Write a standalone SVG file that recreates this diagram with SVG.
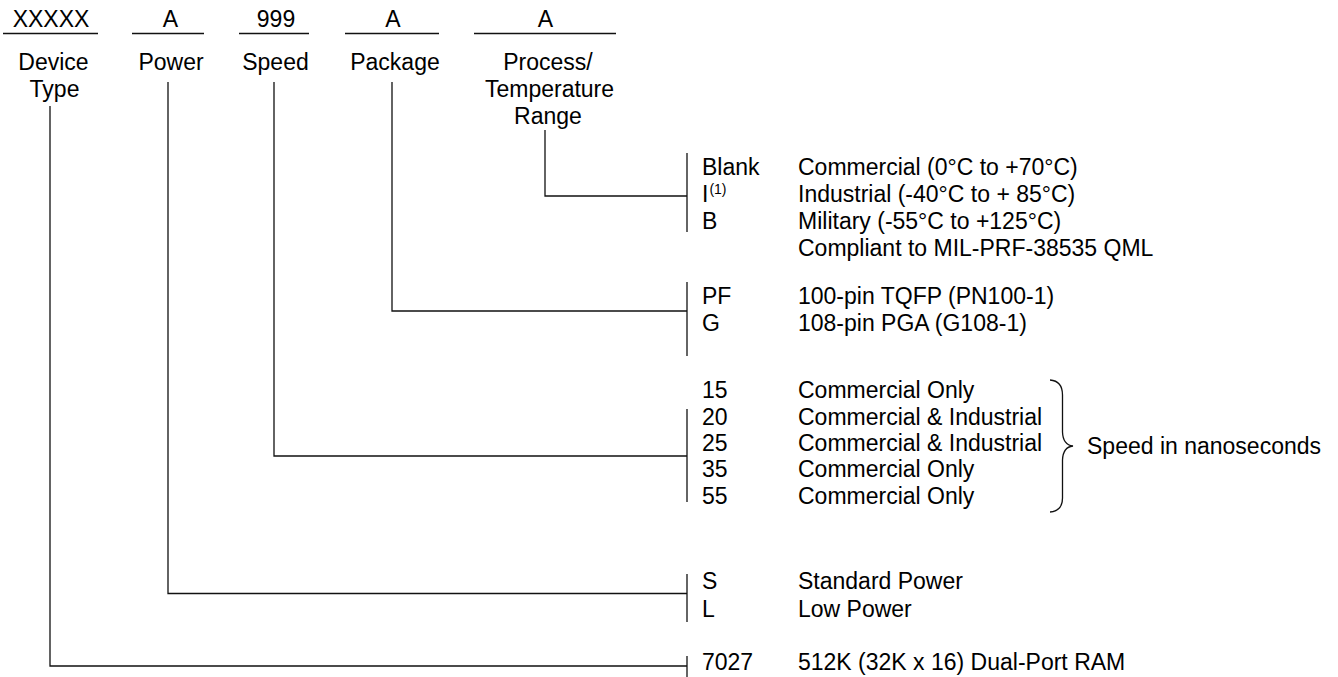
<svg xmlns="http://www.w3.org/2000/svg" width="1338" height="677" viewBox="0 0 1338 677">
<style>
text{font-family:"Liberation Sans",Arial,Helvetica,sans-serif;font-size:23px;fill:#000}
.c{text-anchor:middle}
.sup{font-size:14px}
.ln{stroke:#111;stroke-width:1.3;fill:none}
</style>
<rect width="1338" height="677" fill="#fff"/>
<g id="field-device">
<text class="c" x="51" y="27">XXXXX</text>
<line class="ln" x1="3" y1="33.5" x2="98" y2="33.5"/>
<text class="c" x="53.5" y="70">Device</text>
<text class="c" x="54.5" y="97">Type</text>
</g>
<g id="field-power">
<text class="c" x="170.5" y="27">A</text>
<line class="ln" x1="132" y1="33.5" x2="204" y2="33.5"/>
<text class="c" x="171" y="70">Power</text>
</g>
<g id="field-speed">
<text class="c" x="276" y="27">999</text>
<line class="ln" x1="239" y1="33.5" x2="309" y2="33.5"/>
<text class="c" x="275.5" y="70">Speed</text>
</g>
<g id="field-package">
<text class="c" x="393" y="27">A</text>
<line class="ln" x1="345" y1="33.5" x2="439" y2="33.5"/>
<text class="c" x="395" y="70">Package</text>
</g>
<g id="field-process">
<text class="c" x="545.5" y="27">A</text>
<line class="ln" x1="474" y1="33.5" x2="616" y2="33.5"/>
<text class="c" x="548" y="70">Process/</text>
<text class="c" x="549.5" y="97">Temperature</text>
<text class="c" x="548" y="124">Range</text>
</g>
<g id="connectors">
<path class="ln" d="M545 130 V196 H687"/>
<path class="ln" d="M392 82 V311 H687"/>
<path class="ln" d="M274 82 V456 H687"/>
<path class="ln" d="M168 82 V593.5 H687"/>
<path class="ln" d="M50 106 V666 H687"/>
</g>
<g id="options-process">
<line class="ln" x1="687" y1="153" x2="687" y2="232"/>
<text x="702" y="175">Blank</text>
<text x="702" y="202">I<tspan class="sup" dx="1" dy="-8">(1)</tspan></text>
<text x="702" y="229">B</text>
<text x="798" y="175">Commercial (0°C to +70°C)</text>
<text x="798" y="202">Industrial (-40°C to + 85°C)</text>
<text x="798" y="229">Military (-55°C to +125°C)</text>
<text x="798" y="256">Compliant to MIL-PRF-38535 QML</text>
</g>
<g id="options-package">
<line class="ln" x1="687" y1="282" x2="687" y2="356"/>
<text x="702" y="304">PF</text>
<text x="702" y="331">G</text>
<text x="798" y="304">100-pin TQFP (PN100-1)</text>
<text x="798" y="331">108-pin PGA (G108-1)</text>
</g>
<g id="options-speed">
<line class="ln" x1="687" y1="409" x2="687" y2="502"/>
<text x="702" y="398">15</text>
<text x="702" y="424.5">20</text>
<text x="702" y="451">25</text>
<text x="702" y="477">35</text>
<text x="702" y="503.5">55</text>
<text x="798" y="398">Commercial Only</text>
<text x="798" y="424.5">Commercial &amp; Industrial</text>
<text x="798" y="451">Commercial &amp; Industrial</text>
<text x="798" y="477">Commercial Only</text>
<text x="798" y="503.5">Commercial Only</text>
<path class="ln" d="M1050 380 Q1062.5 381 1062.5 395 V432 Q1063 445 1073 446 Q1063 447 1062.5 460 V498 Q1062.5 511 1050 512"/>
<text x="1087" y="454">Speed in nanoseconds</text>
</g>
<g id="options-power">
<line class="ln" x1="687" y1="574" x2="687" y2="622"/>
<text x="702" y="589">S</text>
<text x="702" y="616.5">L</text>
<text x="798" y="589">Standard Power</text>
<text x="798" y="616.5">Low Power</text>
</g>
<g id="options-device">
<line class="ln" x1="687" y1="656" x2="687" y2="677"/>
<text x="702" y="670">7027</text>
<text x="798" y="670">512K (32K x 16) Dual-Port RAM</text>
</g>
</svg>
